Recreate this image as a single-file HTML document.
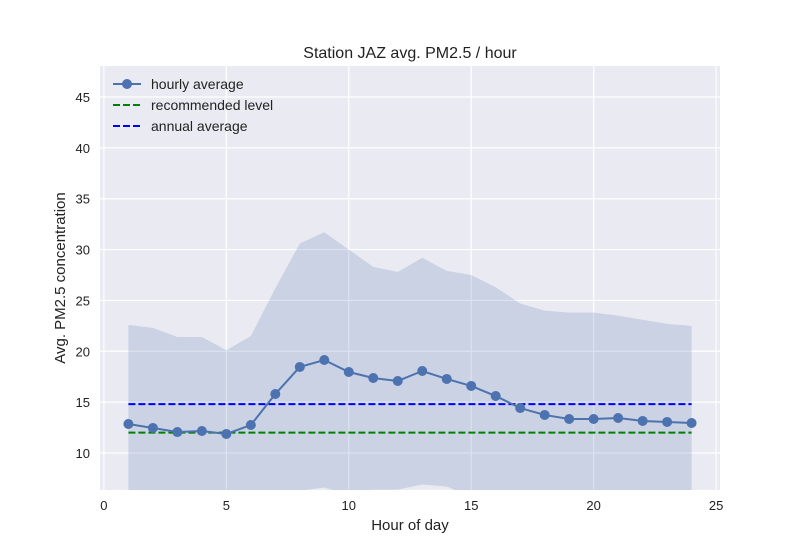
<!DOCTYPE html>
<html><head><meta charset="utf-8"><style>
body{margin:0;background:#fff;font-family:"Liberation Sans",sans-serif}
svg text{font-family:"Liberation Sans",sans-serif;fill:#222}
</style></head><body>
<svg id="chart" width="800" height="550" xmlns="http://www.w3.org/2000/svg">
<rect width="800" height="550" fill="#fff"/>
<rect x="100" y="66" width="620" height="424" fill="#eaeaf2"/>
<g id="grid"></g><g id="band"></g><g id="lines"></g><g id="ticks"></g>
<text x="410" y="58" text-anchor="middle" font-size="16">Station JAZ avg. PM2.5 / hour</text>
<text x="410" y="530" text-anchor="middle" font-size="15">Hour of day</text>
<text transform="translate(65,278) rotate(-90)" text-anchor="middle" font-size="15">Avg. PM2.5 concentration</text>
<g>
<g><line x1="113" y1="84" x2="141" y2="84" stroke="#4c72b0" stroke-width="2"/><circle cx="127" cy="84" r="5" fill="#4c72b0"/><text x="151" y="89" font-size="14">hourly average</text></g>
<g><line x1="113" y1="105" x2="141" y2="105" stroke="#008000" stroke-width="2" stroke-dasharray="7,3"/><text x="151" y="110" font-size="14">recommended level</text></g>
<g><line x1="113" y1="126" x2="141" y2="126" stroke="#0000ff" stroke-width="2" stroke-dasharray="7,3"/><text x="151" y="131" font-size="14">annual average</text></g>
</g>
</svg>
<script>
const hours=[1,2,3,4,5,6,7,8,9,10,11,12,13,14,15,16,17,18,19,20,21,22,23,24];
const hourlyAvg=[12.85,12.46,12.06,12.16,11.87,12.75,15.8,18.46,19.14,17.96,17.37,17.08,18.06,17.28,16.59,15.6,14.42,13.74,13.34,13.34,13.44,13.15,13.05,12.95];
const upperBand=[22.6,22.3,21.4,21.4,20.1,21.5,26.2,30.6,31.7,30.0,28.3,27.8,29.2,27.9,27.5,26.3,24.7,24.0,23.8,23.8,23.5,23.1,22.7,22.5];
const lowerBand=[3.1,2.6,2.7,2.9,3.6,4.0,5.4,6.3,6.6,5.9,6.4,6.4,6.9,6.7,5.7,4.9,4.1,3.5,2.9,2.9,3.4,3.2,3.4,3.4];
const recommended=12;
const annualAvg=14.8;
const xTicks=[0,5,10,15,20,25];
const yTicks=[10,15,20,25,30,35,40,45];
const NS="http://www.w3.org/2000/svg";
const X0=100,X1=720,Y0=490,Y1=66,xmin=-0.16,xmax=25.16,ymin=6.36,ymax=48.05;
const sx=v=>X0+(v-xmin)/(xmax-xmin)*(X1-X0);
const sy=v=>Y0-(v-ymin)/(ymax-ymin)*(Y0-Y1);
function mk(tag,attrs,parent){const e=document.createElementNS(NS,tag);for(const k in attrs)e.setAttribute(k,attrs[k]);document.getElementById(parent).appendChild(e);return e;}
xTicks.forEach(t=>{
 const g=mk('line',{x1:sx(t),x2:sx(t),y1:Y1,y2:Y0,stroke:'#fff','stroke-width':1.2},'grid');
 
 
 const tx=mk('text',{x:sx(t),y:510,'text-anchor':'middle','font-size':13},'ticks');tx.textContent=t;
 
 
});
yTicks.forEach(t=>{
 const g=mk('line',{x1:X0,x2:X1,y1:sy(t),y2:sy(t),stroke:'#fff','stroke-width':1.2},'grid');
 
 
 const tx=mk('text',{x:90,y:sy(t)+5,'text-anchor':'end','font-size':13},'ticks');tx.textContent=t;
 
 
});
const clip=mk('clipPath',{id:'pc'},'band');mk('rect',{x:X0,y:Y1,width:X1-X0,height:Y0-Y1},'band').remove();
const cr=document.createElementNS(NS,'rect');cr.setAttribute('x',X0);cr.setAttribute('y',Y1);cr.setAttribute('width',X1-X0);cr.setAttribute('height',Y0-Y1);clip.appendChild(cr);
let d=hours.map((h,i)=>(i?'L':'M')+sx(h)+','+sy(upperBand[i])).join('');
for(let i=hours.length-1;i>=0;i--)d+='L'+sx(hours[i])+','+sy(lowerBand[i]);
const band=mk('path',{d:d+'Z',fill:'#4c72b0','fill-opacity':0.2,'clip-path':'url(#pc)'},'band');


const rl=mk('line',{x1:sx(1),x2:sx(24),y1:sy(recommended),y2:sy(recommended),stroke:'#008000','stroke-width':2,'stroke-dasharray':'7,3'},'lines');


const al=mk('line',{x1:sx(1),x2:sx(24),y1:sy(annualAvg),y2:sy(annualAvg),stroke:'#0000ff','stroke-width':2,'stroke-dasharray':'7,3'},'lines');


const hl=mk('polyline',{points:hours.map((h,i)=>sx(h)+','+sy(hourlyAvg[i])).join(' '),fill:'none',stroke:'#4c72b0','stroke-width':2},'lines');


hours.forEach((h,i)=>{
 const c=mk('circle',{cx:sx(h),cy:sy(hourlyAvg[i]),r:5,fill:'#4c72b0'},'lines');
 
 
});
</script>
</body></html>
